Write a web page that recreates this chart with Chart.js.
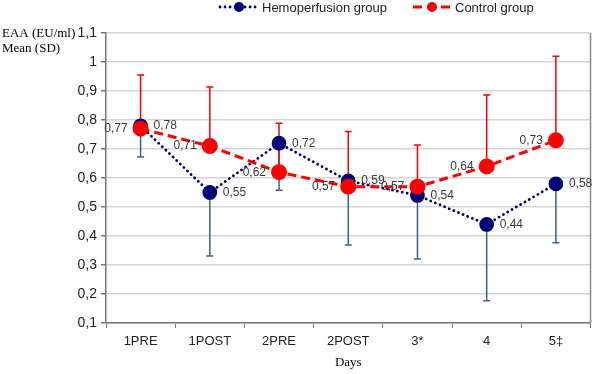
<!DOCTYPE html>
<html>
<head>
<meta charset="utf-8">
<script src="https://cdn.jsdelivr.net/npm/chart.js@4/dist/chart.umd.min.js"></script>
<style>
  body { margin: 0; background: #fff; }
  #wrap { width: 600px; height: 374px; }
</style>
</head>
<body>
<div id="wrap"><canvas id="lineChart"></canvas></div>
<script>
// chart values
const days = ["1PRE", "1POST", "2PRE", "2POST", "3*", "4", "5\u2021"];
const hemoMean = [0.78, 0.55, 0.72, 0.59, 0.54, 0.44, 0.58];
const hemoLow = [0.672, 0.331, 0.558, 0.369, 0.321, 0.177, 0.377];   // lower end of SD bar
const ctrlMean = [0.77, 0.71, 0.62, 0.57, 0.57, 0.64, 0.73];
const ctrlHigh = [0.955, 0.914, 0.789, 0.76, 0.714, 0.886, 1.02];   // upper end of SD bar
const yTicks = [0.1, 0.2, 0.3, 0.4, 0.5, 0.6, 0.7, 0.8, 0.9, 1, 1.1];

const NAVY = "#00007a";
const BAR_BLUE = "#3d5f91";
const RED = "#ff0000";

function comma(v) {
    return String(Math.round(v * 100) / 100).replace(".", ",");
}

// SD whiskers, drawn under the points
const errorBars = {
    id: "errorBars",
    beforeDatasetsDraw(chart) {
        const ctx = chart.ctx;
        const y = chart.scales.y;
        const sets = [
            { idx: 0, ends: hemoLow, color: BAR_BLUE },
            { idx: 1, ends: ctrlHigh, color: RED }
        ];
        ctx.save();
        sets.forEach(function (s) {
            const meta = chart.getDatasetMeta(s.idx);
            ctx.strokeStyle = s.color;
            ctx.lineWidth = 1.5;
            meta.data.forEach(function (pt, i) {
                const yEnd = y.getPixelForValue(s.ends[i]);
                ctx.beginPath();
                ctx.moveTo(pt.x, pt.y);
                ctx.lineTo(pt.x, yEnd);
                ctx.moveTo(pt.x - 3.5, yEnd);
                ctx.lineTo(pt.x + 3.5, yEnd);
                ctx.stroke();
            });
        });
        ctx.restore();
    }
};

// value labels, frame, legend and the y title
const extras = {
    id: "extras",
    afterDatasetsDraw(chart) {
        const ctx = chart.ctx;
        const a = chart.chartArea;
        ctx.save();

        // right frame line
        ctx.strokeStyle = "#8a8a8a";
        ctx.lineWidth = 1.5;
        ctx.beginPath();
        ctx.moveTo(a.right, a.top);
        ctx.lineTo(a.right, a.bottom);
        ctx.stroke();

        ctx.font = "12px 'Liberation Sans', Arial, sans-serif";
        ctx.fillStyle = "#3a3a3a";
        ctx.textBaseline = "middle";
        chart.getDatasetMeta(0).data.forEach(function (pt, i) {
            ctx.textAlign = "left";
            ctx.fillText(comma(hemoMean[i]), pt.x + 13, pt.y);
        });
        chart.getDatasetMeta(1).data.forEach(function (pt, i) {
            ctx.textAlign = "right";
            ctx.fillText(comma(ctrlMean[i]), pt.x - 13, pt.y);
        });

        // legend
        const items = [
            { x: 220, label: "Hemoperfusion group", ds: chart.data.datasets[0] },
            { x: 413, label: "Control group", ds: chart.data.datasets[1] }
        ];
        ctx.font = "13px 'Liberation Sans', Arial, sans-serif";
        ctx.textAlign = "left";
        items.forEach(function (it) {
            ctx.strokeStyle = it.ds.borderColor;
            ctx.lineWidth = it.ds.borderWidth;
            ctx.lineCap = it.ds.borderCapStyle;
            ctx.setLineDash(it.ds.borderDash);
            ctx.beginPath();
            ctx.moveTo(it.x, 7);
            ctx.lineTo(it.x + 38, 7);
            ctx.stroke();
            ctx.setLineDash([]);
            ctx.fillStyle = it.ds.pointBackgroundColor;
            ctx.beginPath();
            ctx.arc(it.x + 19, 7, 5, 0, Math.PI * 2);
            ctx.fill();
            ctx.fillStyle = "#222";
            ctx.fillText(it.label, it.x + 42, 8);
        });

        // y title in the top left corner
        ctx.font = "13px 'Liberation Serif', 'Times New Roman', serif";
        ctx.fillStyle = "#000";
        ctx.fillText("EAA (EU/ml)", 2, 34);
        ctx.fillText("Mean (SD)", 2, 49);
        ctx.restore();
    }
};

const CHART = document.getElementById("lineChart");

let lineChart = new Chart(CHART, {
    type: "line",
    data: {
        labels: days,
        datasets: [
            {
                label: "Hemoperfusion group",
                data: hemoMean,
                borderColor: NAVY,
                backgroundColor: NAVY,
                pointBackgroundColor: NAVY,
                pointBorderColor: NAVY,
                borderWidth: 2.8,
                borderDash: [0.1, 4.9],
                borderCapStyle: "round",
                pointRadius: 6,
                fill: false,
                tension: 0,
                order: 2
            },
            {
                label: "Control group",
                data: ctrlMean,
                borderColor: RED,
                backgroundColor: RED,
                pointBackgroundColor: RED,
                pointBorderColor: RED,
                borderWidth: 3,
                borderDash: [9, 5],
                borderCapStyle: "butt",
                pointRadius: 6.5,
                fill: false,
                tension: 0,
                order: 1
            }
        ]
    },
    options: {
        responsive: true,
        maintainAspectRatio: false,
        animation: false,
        layout: { padding: { top: 33, right: 3, left: 0, bottom: 0 } },
        plugins: {
            legend: { display: false },
            tooltip: { enabled: false }
        },
        scales: {
            x: {
                offset: true,
                grid: {
                    offset: true,
                    drawOnChartArea: false,
                    drawTicks: true,
                    tickLength: 5,
                    color: "#777"
                },
                border: { color: "#777", width: 1.5 },
                ticks: {
                    color: "#222",
                    padding: 6,
                    font: { family: "'Liberation Sans', Arial, sans-serif", size: 13 }
                },
                title: {
                    display: true,
                    text: "Days",
                    color: "#000",
                    align: "center",
                    padding: { top: 11 },
                    font: { family: "'Liberation Serif', 'Times New Roman', serif", size: 13 }
                },
                afterFit: function (scale) { scale.height = 51; }
            },
            y: {
                min: 0.1,
                max: 1.1,
                afterBuildTicks: function (scale) {
                    scale.ticks = yTicks.map(function (v) { return { value: v }; });
                },
                grid: {
                    color: "#d6d6d6",
                    lineWidth: 1.5,
                    tickColor: "#777",
                    tickLength: 5
                },
                border: { color: "#777", width: 1.5 },
                ticks: {
                    color: "#222",
                    padding: 4,
                    font: { family: "'Liberation Sans', Arial, sans-serif", size: 14 },
                    callback: function (v) { return comma(v); }
                },
                afterFit: function (scale) { scale.width = 106; }
            }
        }
    },
    plugins: [errorBars, extras]
});
</script>
</body>
</html>
